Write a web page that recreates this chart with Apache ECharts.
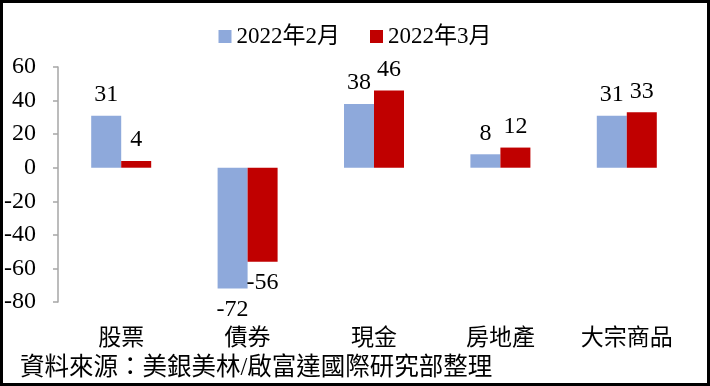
<!DOCTYPE html>
<html><head><meta charset="utf-8">
<script src="https://cdn.jsdelivr.net/npm/echarts@6/dist/echarts.min.js"></script>
<style>html,body{margin:0;padding:0;background:#fff}#c{width:710px;height:386px}</style>
</head><body><div id="c"></div>
<script>
const categories = ['股票', '債券', '現金', '房地產', '大宗商品'];
const feb = [31, -72, 38, 8, 31];
const mar = [4, -56, 46, 12, 33];
const seriesNames = ['2022年2月', '2022年3月'];
const sourceText = '資料來源：美銀美林/啟富達國際研究部整理';

const FONT = '"Times New Roman","Liberation Serif","Noto Sans CJK TC",serif';
function mk(vals) {
  return vals.map(v => ({ value: v, label: { position: v < 0 ? 'bottom' : 'top' } }));
}
const chart = echarts.init(document.getElementById('c'));
chart.setOption({
  backgroundColor: '#fff',
  animation: false,
  legend: {
    top: 20, left: 'center',
    itemWidth: 13, itemHeight: 13, itemGap: 30,
    icon: 'rect',
    textStyle: { fontFamily: FONT, fontSize: 23, color: '#000' },
    data: seriesNames
  },
  grid: { left: 58, right: 20, top: 67, bottom: 84, containLabel: false },
  xAxis: {
    type: 'category', data: categories, position: 'bottom',
    axisLine: { show: false }, axisTick: { show: false },
    axisLabel: { margin: 25, fontFamily: FONT, fontSize: 23, color: '#000' }
  },
  yAxis: {
    type: 'value', min: -80, max: 60, interval: 20,
    splitLine: { show: false },
    axisLine: { show: true, lineStyle: { color: '#A6A6A6', width: 1.5 } },
    axisTick: { show: true, inside: false, length: 5, lineStyle: { color: '#A6A6A6', width: 1.5 } },
    axisLabel: { margin: 22, fontFamily: FONT, fontSize: 24, color: '#000' }
  },
  series: [
    { name: seriesNames[0], type: 'bar', data: mk(feb), barWidth: 30, barGap: '0%',
      itemStyle: { color: '#8EA9DB' },
      label: { show: true, fontFamily: FONT, fontSize: 24, color: '#000', distance: 9 } },
    { name: seriesNames[1], type: 'bar', data: mk(mar), barWidth: 30, barGap: '0%',
      itemStyle: { color: '#C00000' },
      label: { show: true, fontFamily: FONT, fontSize: 24, color: '#000', distance: 9 } }
  ],
  graphic: [
    { type: 'text', left: 20, top: 356, style: { text: sourceText, font: '24.5px ' + FONT, fill: '#000' } },
    { type: 'rect', shape: { x: 1.5, y: 1.5, width: 707, height: 383 }, style: { fill: null, stroke: '#000', lineWidth: 3 }, silent: true, z: 100 }
  ]
});
</script></body></html>
